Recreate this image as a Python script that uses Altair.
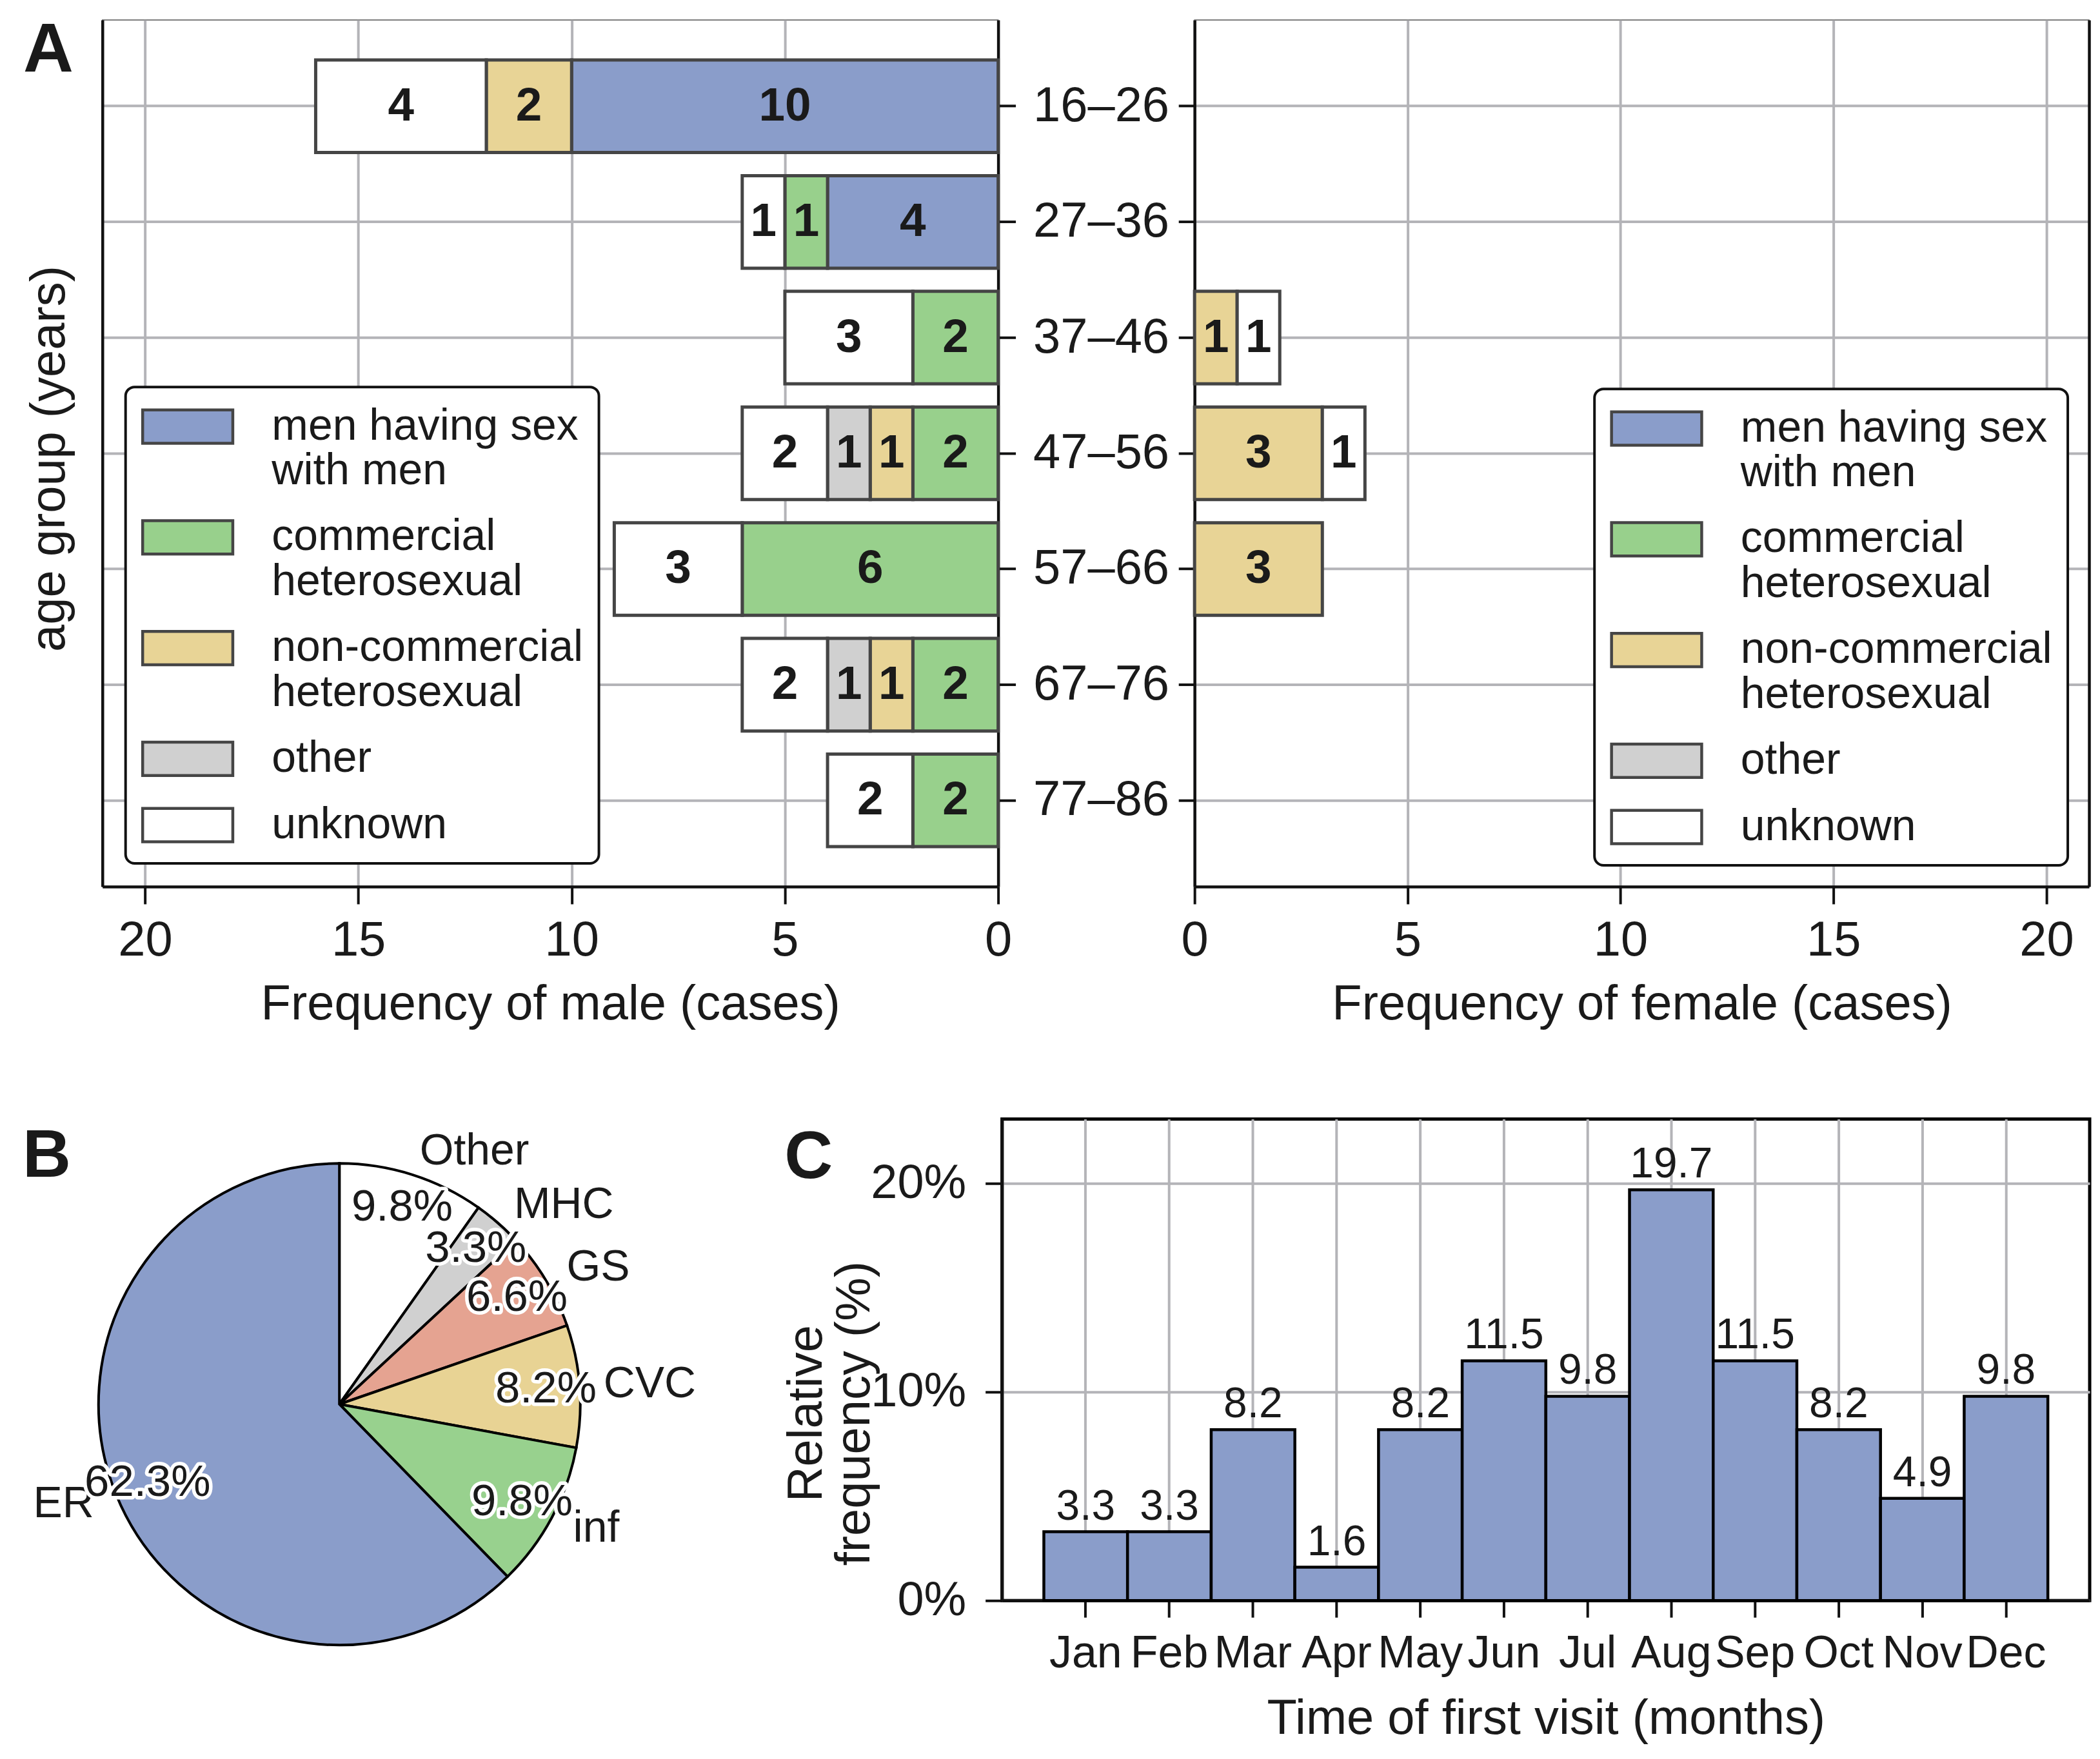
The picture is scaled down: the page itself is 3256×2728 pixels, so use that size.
import altair as alt
import pandas as pd

# ---------------- data ----------------
ages = ["16–26", "27–36", "37–46", "47–56", "57–66", "67–76", "77–86"]
routes = ["men having sex\nwith men", "commercial\nheterosexual",
          "non-commercial\nheterosexual", "other", "unknown"]
route_colors = ["#8a9dca", "#98d08c", "#e8d496", "#d0d0d0", "#ffffff"]

male_msm = [10, 4, 0, 0, 0, 0, 0]
male_commercial = [0, 1, 2, 2, 6, 2, 2]
male_noncommercial = [2, 0, 0, 1, 0, 1, 0]
male_other = [0, 0, 0, 1, 0, 1, 0]
male_unknown = [4, 1, 3, 2, 3, 2, 2]

female_msm = [0, 0, 0, 0, 0, 0, 0]
female_commercial = [0, 0, 0, 0, 0, 0, 0]
female_noncommercial = [0, 0, 1, 3, 3, 0, 0]
female_other = [0, 0, 0, 0, 0, 0, 0]
female_unknown = [0, 0, 1, 1, 0, 0, 0]

pie_labels = ["Other", "MHC", "GS", "CVC", "inf", "ER"]
pie_values = [9.8, 3.3, 6.6, 8.2, 9.8, 62.3]
pie_colors = ["#ffffff", "#d0d0d0", "#e5a391", "#e8d394", "#98d18e", "#8a9dca"]

months = ["Jan", "Feb", "Mar", "Apr", "May", "Jun",
          "Jul", "Aug", "Sep", "Oct", "Nov", "Dec"]
month_values = [3.3, 3.3, 8.2, 1.6, 8.2, 11.5, 9.8, 19.7, 11.5, 8.2, 4.9, 9.8]

FONT = "Liberation Sans"
INK = "#1a1a1a"
LABEL_EXPR = "split(datum.label, '\\n')"


def long_table(series):
    rows = []
    for ci, (r, vals) in enumerate(zip(routes, series)):
        for a, v in zip(ages, vals):
            if v > 0:
                rows.append({"age": a, "route": r, "ci": ci, "n": v})
    return pd.DataFrame(rows)


male_df = long_table([male_msm, male_commercial, male_noncommercial, male_other, male_unknown])
female_df = long_table([female_msm, female_commercial, female_noncommercial, female_other, female_unknown])

y_scale = alt.Scale(domain=ages, paddingInner=0.2, paddingOuter=0.345)


def pyramid(df, side):
    male = side == "male"
    base = alt.Chart(df).transform_stack(
        stack="n", groupby=["age"], as_=["x0", "x1"],
        sort=[alt.SortField("ci", order="ascending")]
    ).transform_calculate(xm="(datum.x0 + datum.x1) / 2")

    x_axis = alt.Axis(values=[0, 5, 10, 15, 20], format="d", grid=True, tickSize=27,
                      labelPadding=20, titlePadding=24, labelFlush=False,
                      title="Frequency of male (cases)" if male else "Frequency of female (cases)")
    x_scale = alt.Scale(domain=[0, 21], nice=False, zero=True, reverse=male)

    if male:
        y_axis_a = alt.Axis(orient="left", title="age group (years)", labels=False, ticks=False,
                            grid=True, titleX=-82, titleY=681,
                            titleBaseline="middle", titleAlign="center", titleAngle=-90)
        y_axis_b = alt.Axis(orient="right", title=None, labels=True, ticks=True, tickSize=27,
                            labelPadding=27, labelLimit=600, grid=False)
        legend = alt.Legend(orient="bottom-left", offset=36, title=None, labelExpr=LABEL_EXPR)
    else:
        y_axis_a = alt.Axis(orient="left", title=None, labels=False, ticks=True, tickSize=25,
                            grid=True)
        y_axis_b = alt.Axis(orient="right", title=None, labels=False, ticks=False, grid=False)
        legend = alt.Legend(orient="bottom-right", offset=33, title=None, labelExpr=LABEL_EXPR)

    bars = base.mark_bar(stroke="#454545", strokeWidth=5).encode(
        y=alt.Y("age:N", sort=ages, scale=y_scale, axis=y_axis_a),
        x=alt.X("x0:Q", scale=x_scale, axis=x_axis),
        x2="x1:Q",
        color=alt.Color("route:N", scale=alt.Scale(domain=routes, range=route_colors),
                        legend=legend),
    )
    labels = base.mark_text(fontSize=73, fontWeight="bold", color=INK, font=FONT).encode(
        y=alt.Y("age:N", sort=ages, scale=y_scale, axis=y_axis_b),
        x=alt.X("xm:Q", scale=x_scale),
        text=alt.Text("n:Q"),
    )
    layers = [bars, labels]
    if male:
        letter = alt.Chart(pd.DataFrame({"t": ["A"]})).mark_text(
            align="left", baseline="top", fontSize=108, fontWeight="bold", color=INK, font=FONT
        ).encode(x=alt.value(-123), y=alt.value(-5), text="t:N")
        layers.append(letter)
    return alt.layer(*layers).resolve_axis(y="independent").properties(
        width=1391 if male else 1389, height=1346,
        view=alt.ViewBackground(stroke="#555555", strokeWidth=1.5),
    )


male_chart = pyramid(male_df, "male")
female_chart = pyramid(female_df, "female")

# ---------------- pie (B) ----------------
pie_df = pd.DataFrame({"label": pie_labels, "value": pie_values,
                       "idx": list(range(len(pie_labels)))})
theta_scale = alt.Scale(domain=[0, 100], range=[0, 6.283185307179586])
CX, CY, R = 368, 443, 374

pbase = alt.Chart(pie_df).transform_stack(
    stack="value", groupby=[], as_=["t0", "t1"], sort=[alt.SortField("idx", order="ascending")]
).transform_calculate(
    tm="(datum.t0 + datum.t1) / 2",
    pct="format(datum.value, '.1f') + '%'",
)

arcs = pbase.mark_arc(radius=R, stroke="black", strokeWidth=4).encode(
    theta=alt.Theta("t0:Q", scale=theta_scale),
    theta2="t1:Q",
    color=alt.Color("label:N", scale=alt.Scale(domain=pie_labels, range=pie_colors), legend=None),
    x=alt.value(CX), y=alt.value(CY),
)
outer_right = pbase.transform_filter("datum.tm < 50").mark_text(
    radius=R * 1.1, align="left", baseline="middle", fontSize=68, color=INK, font=FONT
).encode(theta=alt.Theta("tm:Q", scale=theta_scale), text="label:N",
         x=alt.value(CX), y=alt.value(CY))
outer_left = pbase.transform_filter("datum.tm >= 50").mark_text(
    radius=R * 1.1, align="right", baseline="middle", fontSize=68, color=INK, font=FONT
).encode(theta=alt.Theta("tm:Q", scale=theta_scale), text="label:N",
         x=alt.value(CX), y=alt.value(CY))
pct_halo = pbase.mark_text(
    radius=R * 0.86, align="center", baseline="middle", fontSize=69, font=FONT,
    fill="white", stroke="white", strokeWidth=11, strokeJoin="round"
).encode(theta=alt.Theta("tm:Q", scale=theta_scale), text="pct:N",
         x=alt.value(CX), y=alt.value(CY))
pct_text = pbase.mark_text(
    radius=R * 0.86, align="center", baseline="middle", fontSize=69, font=FONT, color=INK
).encode(theta=alt.Theta("tm:Q", scale=theta_scale), text="pct:N",
         x=alt.value(CX), y=alt.value(CY))
letter_b = alt.Chart(pd.DataFrame({"t": ["B"]})).mark_text(
    align="left", baseline="top", fontSize=104, fontWeight="bold", color=INK, font=FONT
).encode(x=alt.value(-124), y=alt.value(8), text="t:N")

pie_chart = alt.layer(arcs, outer_right, outer_left, pct_halo, pct_text, letter_b).properties(
    width=1000, height=886,
    view=alt.ViewBackground(stroke="transparent", fill="white"),
)

# ---------------- monthly bars (C) ----------------
month_df = pd.DataFrame({"month": months, "v": month_values})
mx = alt.X("month:N", sort=months,
           scale=alt.Scale(domain=months, paddingInner=0, paddingOuter=0.5),
           axis=alt.Axis(title="Time of first visit (months)", labelAngle=0, grid=True,
                         tickSize=26, labelFontSize=70, labelPadding=22, titlePadding=30))
my = alt.Y("v:Q", scale=alt.Scale(domain=[0, 23.1], nice=False, zero=True),
           axis=alt.Axis(values=[0, 10, 20], labelExpr="datum.value + '%'", grid=True,
                         tickSize=26, labelPadding=30, labelFontSize=74,
                         title=["Relative", "frequency (%)"], titleX=-304, titleY=457,
                         titleAngle=-90, titleBaseline="middle", titleAlign="center",
                         titleLineHeight=75))
cbars = alt.Chart(month_df).mark_bar(fill="#8a9dca", stroke="black", strokeWidth=4.5).encode(
    x=mx, y=my)
ctext = alt.Chart(month_df).mark_text(baseline="bottom", dy=-5, fontSize=66, color=INK,
                                      font=FONT).encode(
    x=alt.X("month:N", sort=months), y=alt.Y("v:Q"), text=alt.Text("v:Q", format=".1f"))
letter_c = alt.Chart(pd.DataFrame({"t": ["C"]})).mark_text(
    align="left", baseline="top", fontSize=104, fontWeight="bold", color=INK, font=FONT
).encode(x=alt.value(-338), y=alt.value(10), text="t:N")

month_chart = alt.layer(cbars, ctext, letter_c).properties(
    width=1689, height=748,
    view=alt.ViewBackground(stroke="black", strokeWidth=5),
)

row1 = alt.hconcat(male_chart, female_chart, spacing=10).resolve_scale(
    color="independent").resolve_legend(color="independent")
row2 = alt.hconcat(pie_chart, month_chart, spacing=51).resolve_scale(
    color="independent").resolve_legend(color="independent")

chart = alt.vconcat(row1, row2, spacing=136).resolve_scale(
    color="independent").resolve_legend(color="independent").properties(
    padding={"left": 26, "top": 14, "right": 5, "bottom": 5}
).configure(
    font=FONT,
).configure_axis(
    labelFont=FONT, titleFont=FONT, labelFontSize=76, titleFontSize=76,
    labelColor=INK, titleColor=INK, titleFontWeight="normal",
    domainColor="#111111", domainWidth=4.5, tickColor="#111111", tickWidth=4,
    gridColor="#b4b4b8", gridWidth=4,
).configure_legend(
    labelFont=FONT, labelFontSize=68, labelColor=INK, labelLimit=2000,
    labelOffset=93, rowPadding=30, padding=24, cornerRadius=14,
    strokeColor="#111111", strokeWidth=4, fillColor="white",
    symbolType="M-2,-0.74H2V0.74H-2Z", symbolSize=4900, symbolOffset=35,
    symbolStrokeColor="#454545", symbolStrokeWidth=4.5, symbolOpacity=1,
)

chart.save("out.html", embed_options={"renderer": "svg", "actions": False})
